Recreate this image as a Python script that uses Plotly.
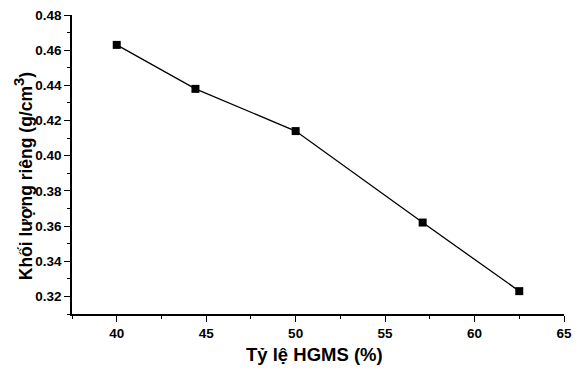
import plotly.graph_objects as go

hgms_pct = [40, 44.4, 50, 57.1, 62.5]
density = [0.463, 0.438, 0.414, 0.362, 0.323]

x_title = "Tỷ lệ HGMS (%)"
y_title = "Khối lượng riêng (g/cm<sup><span style='font-size:15px'>3</span></sup>)"

FONT = "Arial, Liberation Sans, sans-serif"

fig = go.Figure()
fig.add_trace(go.Scatter(
    x=hgms_pct, y=density, mode="lines+markers",
    line=dict(color="black", width=1.3),
    marker=dict(symbol="square", size=8, color="black"),
    showlegend=False,
))

axis_common = dict(
    showgrid=False, zeroline=False, showline=True, linecolor="black", linewidth=1.5,
    ticks="outside", ticklen=6, tickwidth=1.3, tickcolor="black",
    tickfont=dict(family=FONT, size=13.5, color="black", weight="bold"),
    mirror=False,
)

fig.update_layout(
    width=580, height=372,
    margin=dict(l=72, r=8, t=14, b=58),
    plot_bgcolor="white", paper_bgcolor="white",
    xaxis=dict(range=[37.5, 65], dtick=5, tick0=40,
               minor=dict(dtick=2.5, tick0=37.5, ticks="outside", ticklen=3, tickcolor="black", tickwidth=1.2),
               **axis_common),
    yaxis=dict(range=[0.31, 0.48], dtick=0.02, tick0=0.32, tickformat=".2f",
               minor=dict(dtick=0.01, tick0=0.31, ticks="outside", ticklen=3, tickcolor="black", tickwidth=1.2),
               **axis_common),
    annotations=[
        dict(text=x_title, xref="paper", yref="paper", x=0.493, y=-0.135,
             xanchor="center", yanchor="middle", showarrow=False,
             font=dict(family=FONT, size=18.5, color="black", weight="bold")),
        dict(text=y_title, xref="paper", yref="paper", x=-0.1, y=0.46,
             xanchor="center", yanchor="middle", showarrow=False, textangle=-90,
             font=dict(family=FONT, size=17.5, color="black", weight="bold")),
    ],
)

fig.write_html("out.html")
